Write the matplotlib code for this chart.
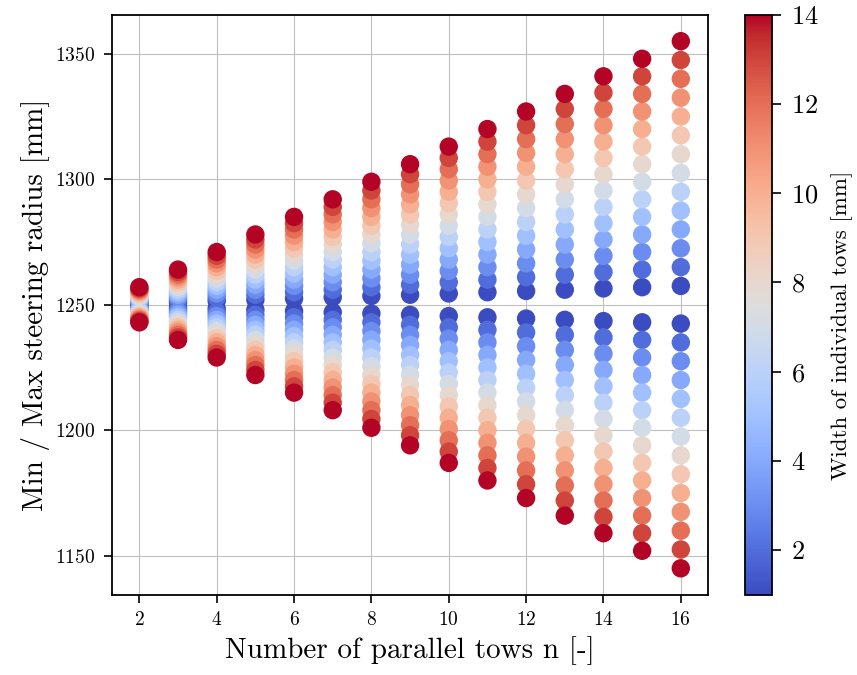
import matplotlib
matplotlib.use("Agg")
import matplotlib.pyplot as plt
import numpy as np

plt.rcParams['font.family'] = 'serif'
plt.rcParams['font.serif'] = ['cmr10', 'DejaVu Serif']
plt.rcParams['mathtext.fontset'] = 'cm'
plt.rcParams['axes.formatter.use_mathtext'] = True

# number of parallel tows
tows = [2, 3, 4, 5, 6, 7, 8, 9, 10, 11, 12, 13, 14, 15, 16]
# width of individual tows [mm]
widths = [1, 2, 3, 4, 5, 6, 7, 8, 9, 10, 11, 12, 13, 14]
# radius shift per mm of tow width
shift = [0.5, 1.0, 1.5, 2.0, 2.5, 3.0, 3.5, 4.0, 4.5, 5.0, 5.5, 6.0, 6.5, 7.0, 7.5]
center = 1250

fig = plt.figure(figsize=(8.57, 6.75), dpi=100)
ax = fig.add_axes([0.131, 0.119, 0.695, 0.859])
cax = fig.add_axes([0.869, 0.119, 0.032, 0.859])

for w in widths:
    rmax = [center + s * w for s in shift]
    rmin = [center - s * w for s in shift]
    sc = ax.scatter(tows, rmax, c=[w] * len(tows), cmap='coolwarm', vmin=1, vmax=14, s=150, zorder=3)
    ax.scatter(tows, rmin, c=[w] * len(tows), cmap='coolwarm', vmin=1, vmax=14, s=150, zorder=3)

ax.set_xticks([2, 4, 6, 8, 10, 12, 14, 16])
ax.set_yticks([1150, 1200, 1250, 1300, 1350])
ax.grid(True, color='#c0c0c0', linewidth=0.8, zorder=0)
ax.set_axisbelow(True)
for sp in ax.spines.values():
    sp.set_linewidth(1.3)
ax.tick_params(labelsize=14, width=1.2, length=6, pad=6)
ax.set_xlabel("Number of parallel tows n [-]", fontsize=21, labelpad=5)
ax.set_ylabel("Min / Max steering radius [mm]", fontsize=21)

cb = fig.colorbar(sc, cax=cax)
cb.set_ticks([2, 4, 6, 8, 10, 12, 14])
cb.outline.set_linewidth(1.3)
cax.tick_params(labelsize=19, width=1.2, length=6.5, pad=7)
cb.set_label("Width of individual tows [mm]", fontsize=16.5, labelpad=9, y=0.465)

fig.savefig("out.png", dpi=100)
